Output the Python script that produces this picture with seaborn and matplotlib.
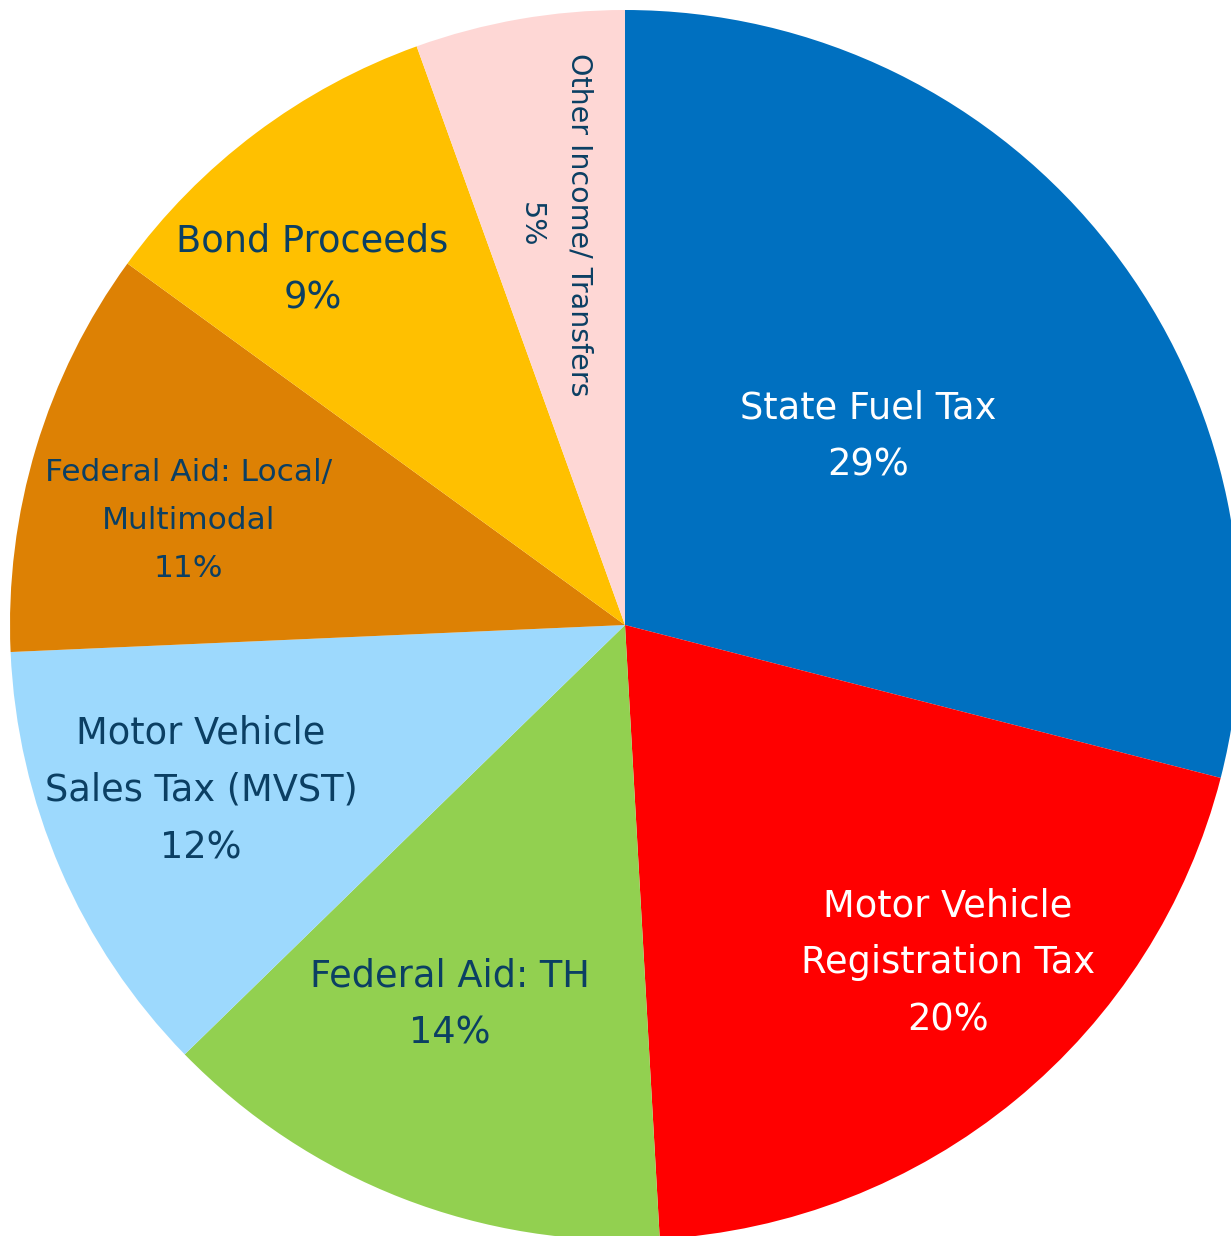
import numpy as np
import matplotlib
matplotlib.use("Agg")
import matplotlib.pyplot as plt
import seaborn as sns

# ======================
# DATA
# ======================
categories = [
    "State Fuel Tax",
    "Motor Vehicle\nRegistration Tax",
    "Federal Aid: TH",
    "Motor Vehicle\nSales Tax (MVST)",
    "Federal Aid: Local/\nMultimodal",
    "Bond Proceeds",
    "Other Income/ Transfers",
]
shares = [29.0, 20.1, 13.6, 11.6, 10.7, 9.5, 5.5]
pct_labels = ["29%", "20%", "14%", "12%", "11%", "9%", "5%"]

colors = ["#0070C0", "#FF0000", "#92D050", "#9DD9FD", "#DD8104", "#FFC000", "#FED7D5"]
text_colors = ["white", "white", "#0B3F63", "#0B3F63", "#0B3F63", "#0B3F63", "#0B3F63"]

# label placement: fraction of radius, angle nudge (deg), font size
label_r = [0.50, 0.76, 0.68, 0.74, 0.73, 0.77, 0.66]
label_nudge = [0.0, 4.3, -3.5, -2.1, 3.3, 4.4, 0.0]
label_size = [26.5, 26.5, 26.5, 26.5, 22.5, 26.5, 20.5]

# ======================
# PLOT
# ======================
sns.set_theme(style="white")
plt.rcParams["font.family"] = ["DejaVu Sans"]

W, H = 1231, 1236
fig = plt.figure(figsize=(W / 100, H / 100), dpi=100)
ax = fig.add_axes([0, 0, 1, 1])

cx, cy, R = 625, H - 625, 615
wedges, _ = ax.pie(
    shares,
    colors=colors,
    startangle=90,
    counterclock=False,
    center=(cx, cy),
    radius=R,
    wedgeprops=dict(linewidth=0),
)

for i, w in enumerate(wedges):
    mid = np.deg2rad((w.theta1 + w.theta2) / 2 + label_nudge[i])
    x = cx + label_r[i] * R * np.cos(mid)
    y = cy + label_r[i] * R * np.sin(mid)
    if i == len(wedges) - 1:
        # rotated label in the thin slice
        ax.text(x + 24, y, categories[i], rotation=270, ha="center", va="center",
                fontsize=label_size[i], color=text_colors[i])
        ax.text(x - 24, y, pct_labels[i], rotation=270, ha="center", va="center",
                fontsize=label_size[i], color=text_colors[i])
    else:
        lsp = 1.82 if i == 4 else 1.7
        ax.text(x, y, categories[i] + "\n" + pct_labels[i], ha="center", va="center",
                fontsize=label_size[i], color=text_colors[i], linespacing=lsp)

ax.set_xlim(0, W)
ax.set_ylim(0, H)
ax.set_aspect("equal")
ax.axis("off")

fig.savefig("out.png", dpi=100, facecolor="white")
